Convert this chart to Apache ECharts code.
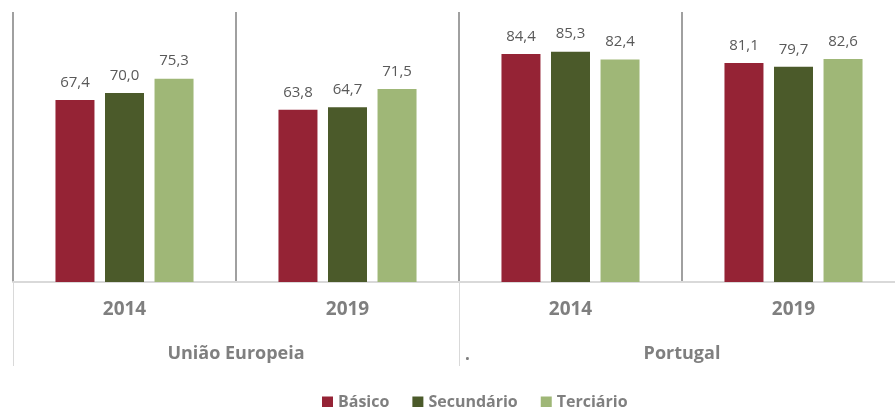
<!DOCTYPE html>
<html>
<head>
<meta charset="utf-8">
<script src="https://cdn.jsdelivr.net/npm/echarts@6/dist/echarts.min.js"></script>
<style>
  html, body { margin: 0; padding: 0; background: #fff; }
  #chart { width: 895px; height: 407px; }
</style>
</head>
<body>
<div id="chart"></div>
<script>
// Years shown under each cluster of bars
const years = ['2014', '2019', '2014', '2019'];
// Regions spanning two years each
const regions = ['União Europeia', 'Portugal'];
// Series names (education level)
const levels = ['Básico', 'Secundário', 'Terciário'];
// Values per level, in the order of the year clusters
const basico = [67.4, 63.8, 84.4, 81.1];
const secundario = [70.0, 64.7, 85.3, 79.7];
const terciario = [75.3, 71.5, 82.4, 82.6];

const colors = ['#952335', '#4B5A2A', '#9FB777'];
const FONT = '"Open Sans", "Noto Sans", sans-serif';

const chart = echarts.init(document.getElementById('chart'));

const fmt = p => p.value.toFixed(1).replace('.', ',');

function barSeries(name, values, color) {
  return {
    name: name,
    type: 'bar',
    data: values,
    xAxisIndex: 0,
    barWidth: 39,
    barGap: '27%',
    itemStyle: { color: color },
    label: {
      show: true,
      position: 'top',
      distance: 10,
      formatter: fmt,
      color: '#595959',
      fontFamily: FONT,
      fontSize: 15
    }
  };
}

chart.setOption({
  animation: false,
  backgroundColor: '#ffffff',
  // the plot runs a little past the right edge of the canvas
  grid: { left: 13, top: 12, width: 892, height: 270, outerBoundsMode: 'none', containLabel: false },
  legend: {
    data: levels,
    top: 389,
    left: 317,
    icon: 'rect',
    itemWidth: 11,
    itemHeight: 11,
    itemGap: 23,
    textStyle: { color: '#7f7f7f', fontFamily: FONT, fontWeight: 'bold', fontSize: 16 }
  },
  xAxis: [
    {
      type: 'category',
      data: years,
      position: 'bottom',
      axisLine: { show: true, lineStyle: { color: '#d9d9d9', width: 2 } },
      axisTick: { show: false },
      axisLabel: {
        color: '#7f7f7f',
        fontFamily: FONT,
        fontWeight: 'bold',
        fontSize: 19,
        margin: 18
      },
      splitLine: { show: true, interval: 0, lineStyle: { color: '#a0a0a0', width: 2 } }
    },
    {
      type: 'category',
      data: regions,
      position: 'bottom',
      axisLine: { show: false },
      axisTick: { show: true, interval: 0, length: 84, lineStyle: { color: '#d9d9d9', width: 1 } },
      axisLabel: {
        color: '#7f7f7f',
        fontFamily: FONT,
        fontWeight: 'bold',
        fontSize: 18,
        margin: 63
      },
      splitLine: { show: false }
    }
  ],
  yAxis: { type: 'value', min: 0, max: 100, show: false, splitLine: { show: false } },
  graphic: [
    {
      type: 'text',
      left: 465,
      top: 347,
      style: { text: '.', fill: '#7f7f7f', font: 'bold 17px ' + FONT }
    }
  ],
  series: [
    barSeries(levels[0], basico, colors[0]),
    barSeries(levels[1], secundario, colors[1]),
    barSeries(levels[2], terciario, colors[2])
  ]
});
</script>
</body>
</html>
